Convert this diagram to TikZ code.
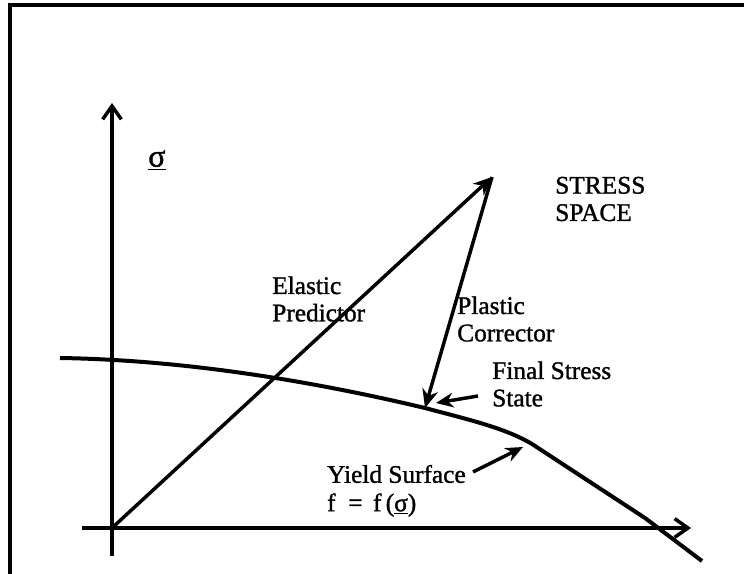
\documentclass[tikz,border=0pt]{standalone}
\usepackage{fontspec}
\setmainfont{Liberation Serif}[FakeBold=1.2]
\usetikzlibrary{arrows.meta}
\begin{document}
\begin{tikzpicture}[x=0.75pt,y=-0.75pt,
  axis/.style={line width=2.6pt,-{Straight Barb[length=10pt,width=14pt,line width=2.6pt]}},
  vec/.style={line width=2.6pt,-{Stealth[length=14pt,width=12pt]}},
  ptr/.style={line width=2.6pt,-{Stealth[length=13pt,width=11pt]}},
  lbl/.style={font=\fontsize{19}{20.5}\selectfont,align=left,inner sep=0pt,anchor=west},
  curve/.style={line width=3pt,line join=round}]
\useasboundingbox (0,0) rectangle (744,574);
\fill[white] (0,0) rectangle (744,574);
% frame (top and left only)
\draw[line width=2.4pt] (10,575) -- (10,5) -- (745,5);
% coordinates
\coordinate (O) at (112,528);
\coordinate (ybot) at (112,556);
\coordinate (ytop) at (112,103);
\coordinate (xleft) at (82,528);
\coordinate (xright) at (691,528);
\coordinate (trial) at (492,177);
\coordinate (final) at (425,408);
% axes
\draw[line width=2.6pt] (ybot) -- (O);
\draw[axis] (O) -- (ytop);
\draw[axis] (xleft) -- (xright);
% yield surface
\draw[curve] (60,358) .. controls (190,360) and (320,383) .. (final)
  .. controls (470,420) and (505,428) .. (532,444)
  -- (645,518) -- (702,561);
% elastic predictor and plastic corrector
\draw[vec] (O) -- (trial);
\draw[vec] (trial) -- (final);
% labels
\node[lbl,font=\fontsize{24}{26}\selectfont] (sig) at (148,160) {\underline{σ}};
\node[lbl] (stress) at (555,199) {STRESS\\SPACE};
\node[lbl] (ep) at (272,299) {Elastic\\Predictor};
\node[lbl] (pc) at (457,319) {Plastic\\Corrector};
\node[lbl] (fs) at (492,384) {Final Stress\\State};
\node[lbl,anchor=east] (ys) at (466,474) {Yield Surface};
\node[lbl] (ff) at (ys.west|-0,505) {f\ \ =\ \,f\,(\underline{σ})};
% pointers
\coordinate (fstip) at (436,403);
\coordinate (ystip) at (523,447);
\draw[ptr] (478,396) -- (fstip);
\draw[ptr] (473,472) -- (ystip);
\end{tikzpicture}
\end{document}
